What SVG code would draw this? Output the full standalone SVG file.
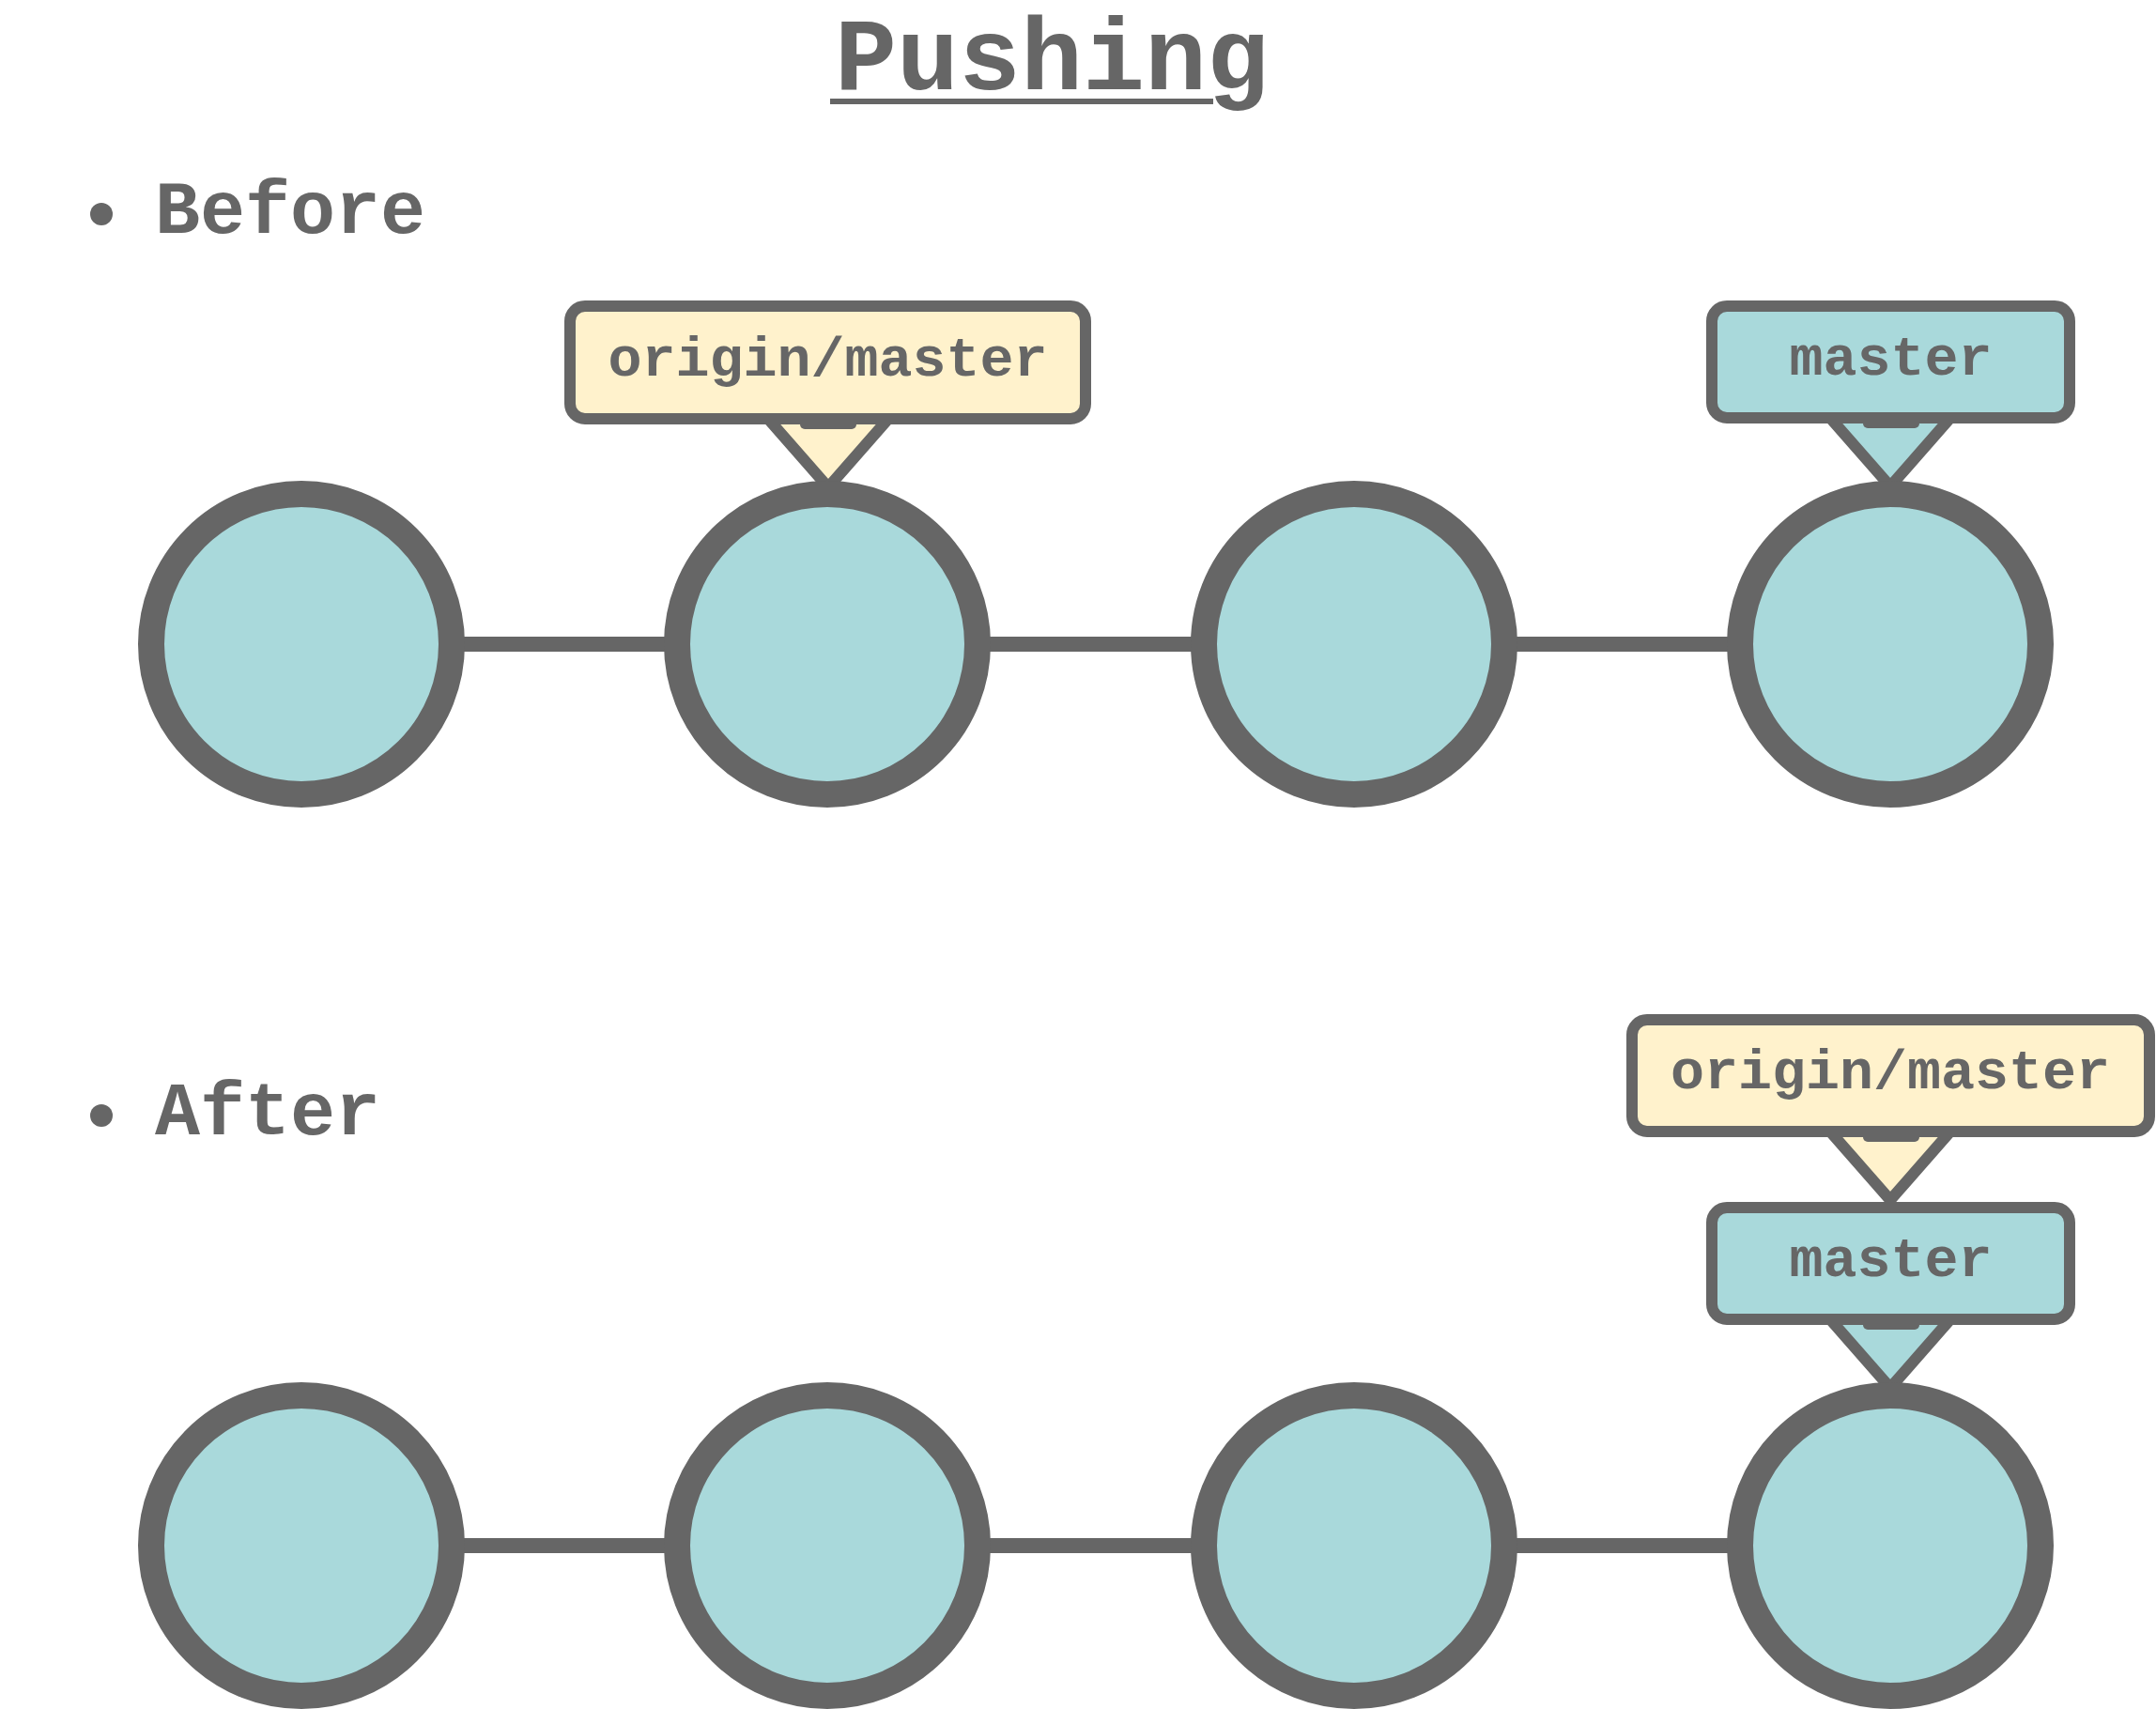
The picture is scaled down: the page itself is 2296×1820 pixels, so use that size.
<svg xmlns="http://www.w3.org/2000/svg" width="2296" height="1820" viewBox="0 0 2296 1820">
<style>
.t{font-family:"Liberation Mono","Courier New",monospace;font-weight:bold;fill:#666666}
.commit{fill:#A9D9DB;stroke:#666666;stroke-width:28}
.edge{stroke:#666666;stroke-width:16;fill:none}
.box{stroke:#666666;stroke-width:12}
.ptr{stroke:#666666;stroke-width:12;stroke-linejoin:round}
.yel{fill:#FFF2CC}
.teal{fill:#A9D9DB}
.tab{fill:#666666}
.lbl{font-size:60px;text-anchor:middle}
</style>
<rect width="2296" height="1820" fill="#ffffff"/>
<g id="title">
<text class="t" x="889" y="95" font-size="110">Pushing</text>
<line x1="884" y1="108" x2="1292" y2="108" stroke="#666666" stroke-width="6"/>
</g>
<g id="before-heading">
<circle cx="108" cy="228" r="12" fill="#666666"/>
<text class="t" x="165" y="248" font-size="80">Before</text>
</g>
<g id="after-heading">
<circle cx="108" cy="1188" r="12" fill="#666666"/>
<text class="t" x="165" y="1208" font-size="80">After</text>
</g>
<g id="connectors">
<line class="edge" x1="321" y1="686" x2="881" y2="686"/>
<line class="edge" x1="881" y1="686" x2="1442" y2="686"/>
<line class="edge" x1="1442" y1="686" x2="2013" y2="686"/>
<line class="edge" x1="321" y1="1646" x2="881" y2="1646"/>
<line class="edge" x1="881" y1="1646" x2="1442" y2="1646"/>
<line class="edge" x1="1442" y1="1646" x2="2013" y2="1646"/>
</g>
<g id="before-origin-master">
<polygon class="ptr yel" points="818,446 946,446 882,519"/>
<rect class="tab" x="852" y="446" width="60" height="11" rx="5"/>
<rect class="box yel" x="607" y="326" width="549" height="120" rx="16"/>
<text class="t lbl" x="881.5" y="400">origin/master</text>
</g>
<g id="before-master">
<polygon class="ptr teal" points="1949,445 2077,445 2013,518"/>
<rect class="tab" x="1984" y="445" width="60" height="11" rx="5"/>
<rect class="box teal" x="1823" y="326" width="381" height="119" rx="16"/>
<text class="t lbl" x="2013.5" y="399">master</text>
</g>
<g id="after-origin-master">
<polygon class="ptr yel" points="1949,1205 2077,1205 2013,1278"/>
<rect class="tab" x="1984" y="1205" width="60" height="11" rx="5"/>
<rect class="box yel" x="1738" y="1086" width="551" height="119" rx="16"/>
<text class="t lbl" x="2013" y="1159">origin/master</text>
</g>
<g id="after-master">
<polygon class="ptr teal" points="1949,1405 2077,1405 2013,1478"/>
<rect class="tab" x="1984" y="1405" width="60" height="11" rx="5"/>
<rect class="box teal" x="1823" y="1286" width="381" height="119" rx="16"/>
<text class="t lbl" x="2013.5" y="1359">master</text>
</g>
<g id="before-c1"><circle class="commit" cx="321" cy="686" r="160"/></g>
<g id="before-c2"><circle class="commit" cx="881" cy="686" r="160"/></g>
<g id="before-c3"><circle class="commit" cx="1442" cy="686" r="160"/></g>
<g id="before-c4"><circle class="commit" cx="2013" cy="686" r="160"/></g>
<g id="after-c1"><circle class="commit" cx="321" cy="1646" r="160"/></g>
<g id="after-c2"><circle class="commit" cx="881" cy="1646" r="160"/></g>
<g id="after-c3"><circle class="commit" cx="1442" cy="1646" r="160"/></g>
<g id="after-c4"><circle class="commit" cx="2013" cy="1646" r="160"/></g>
</svg>
